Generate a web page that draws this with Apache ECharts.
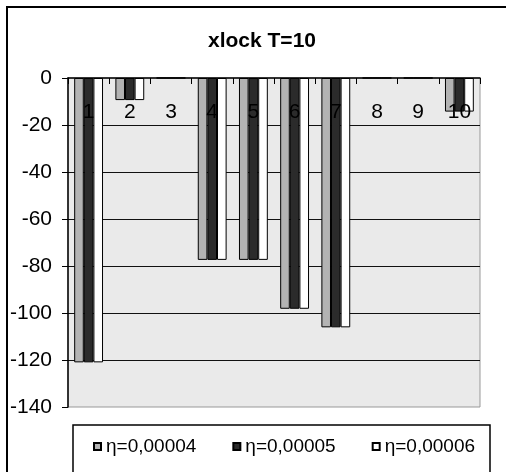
<!DOCTYPE html>
<html>
<head>
<meta charset="utf-8">
<script src="https://cdn.jsdelivr.net/npm/echarts@6/dist/echarts.min.js"></script>
<style>
html,body{margin:0;padding:0;background:#fff;overflow:hidden;}
#chart{width:506px;height:472px;}
</style>
</head>
<body>
<div id="chart"></div>
<script>
var categories = ['1','2','3','4','5','6','7','8','9','10'];
var seriesNames = ['η=0,00004','η=0,00005','η=0,00006'];
var s1 = [-121, -9.4, 0, -77.4, -77.4, -98.2, -106.1, 0, 0, -14.3];
var s2 = [-121, -9.4, 0, -77.4, -77.4, -98.2, -106.1, 0, 0, -14.3];
var s3 = [-121, -9.4, 0, -77.4, -77.4, -98.2, -106.1, 0, 0, -14.3];
var yTicks = [0, -20, -40, -60, -80, -100, -120, -140];

var FONT = '"Liberation Sans", Arial, sans-serif';
var colors = ['#b3b3b3', '#2b2b2b', '#ffffff'];
var data = [s1, s2, s3];

var chart = echarts.init(document.getElementById('chart'));
chart.setOption({
  animation: false,
  backgroundColor: '#fff',
  title: {
    text: 'xlock T=10',
    left: 203, top: 26,
    textStyle: {fontFamily: FONT, fontSize: 21, fontWeight: 'bold', color: '#000'}
  },
  graphic: [
    {type: 'line', shape: {x1: 7, y1: 7, x2: 7, y2: 600},
     style: {stroke: '#000', lineWidth: 2}, z: 100, silent: true},
    {type: 'line', shape: {x1: 6, y1: 7, x2: 520, y2: 7},
     style: {stroke: '#000', lineWidth: 2}, z: 100, silent: true},
    {type: 'polyline', shape: {points: [[73, 600], [73, 425], [490, 425], [490, 600]]},
     style: {fill: null, stroke: '#000', lineWidth: 1.5}, z: 100, silent: true}
  ],
  legend: {
    left: 93, top: 437, padding: 0,
    itemWidth: 7, itemHeight: 7,
    itemGap: 36,
    icon: 'rect',
    textStyle: {fontFamily: FONT, fontSize: 19, color: '#000'},
    data: seriesNames
  },
  grid: {
    left: 68, top: 78, width: 412, height: 329,
    show: true, backgroundColor: '#eaeaea', borderColor: '#999', borderWidth: 1
  },
  xAxis: {
    type: 'category',
    position: 'top',
    data: categories,
    z: 10,
    axisLine: {show: true, onZero: false, lineStyle: {color: '#000', width: 1.5}},
    axisTick: {show: true, inside: true, length: 6, lineStyle: {color: '#000'}},
    axisLabel: {inside: true, margin: 24, fontFamily: FONT, fontSize: 21, color: '#000', interval: 0},
    splitLine: {show: false}
  },
  yAxis: {
    type: 'value',
    min: -140, max: 0, interval: 20,
    axisLine: {show: true, lineStyle: {color: '#000', width: 1.5}},
    axisTick: {show: true, length: 6, lineStyle: {color: '#000'}},
    axisLabel: {margin: 16, fontFamily: FONT, fontSize: 21, color: '#000',
      formatter: function(v){ return yTicks.indexOf(v) >= 0 ? String(v) : ''; }},
    splitLine: {show: true, showMinLine: false, showMaxLine: false, lineStyle: {color: '#111', width: 1}}
  },
  series: data.map(function(d, i){
    return {
      name: seriesNames[i],
      type: 'bar',
      data: d,
      barGap: '0%',
      barCategoryGap: '30%',
      itemStyle: {color: colors[i], borderColor: '#000', borderWidth: 1}
    };
  })
});
</script>
</body>
</html>
